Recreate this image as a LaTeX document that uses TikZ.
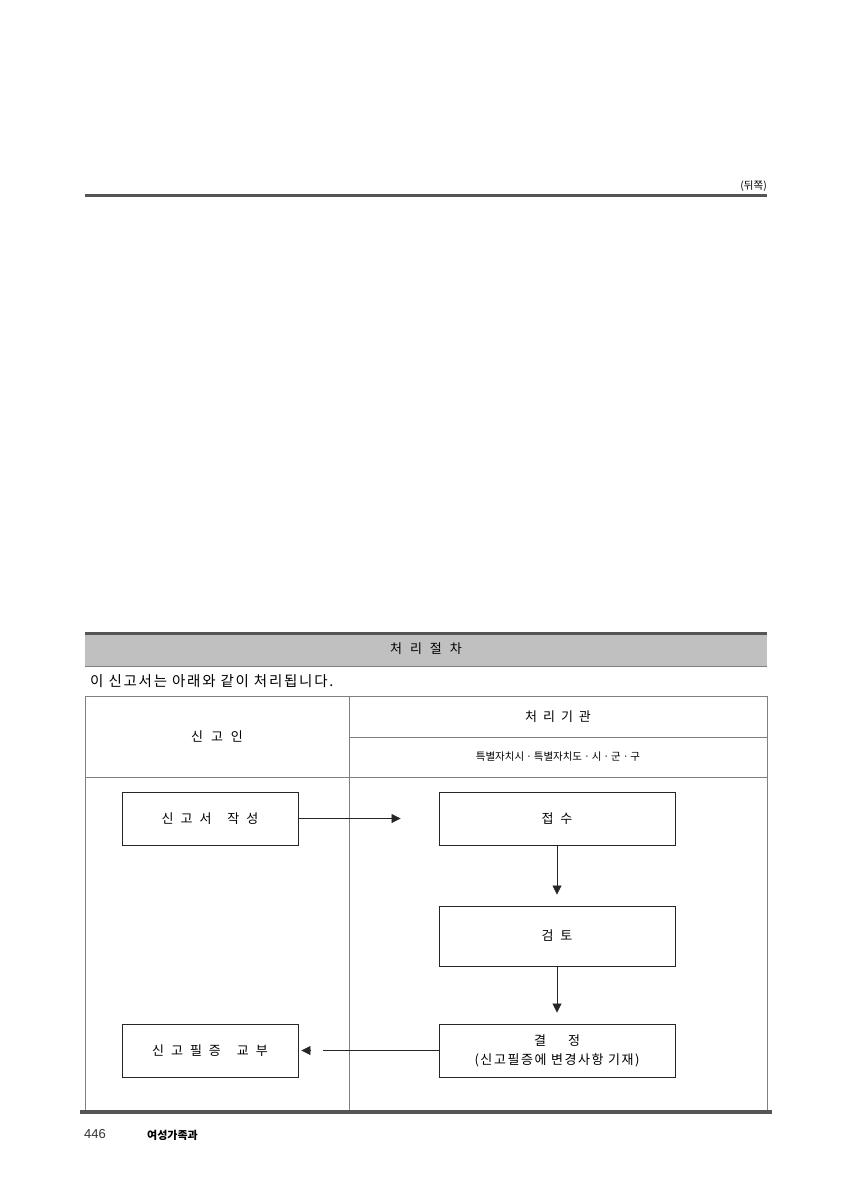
\documentclass[tikz,border=0pt]{standalone}
\usepackage{fontspec}
\setmainfont{Noto Sans CJK KR}[LetterSpace=12]
\newfontfamily\plainkr{Noto Sans CJK KR}
\newfontfamily\numfont{Liberation Sans}
\usetikzlibrary{arrows.meta,calc}
\definecolor{rule}{HTML}{555555}
\definecolor{band}{HTML}{C0C0C0}
\definecolor{tline}{HTML}{808080}
\newcommand\kgap{\hspace{7pt}}
\newcommand\kwide{\hspace{16pt}}
\tikzset{
  procbox/.style={draw=black!85, line width=0.9pt, minimum height=53pt, inner sep=0pt, align=center, font=\fontsize{13}{19}\selectfont},
  lbox/.style={procbox, minimum width=176pt},
  rbox/.style={procbox, minimum width=236pt},
  arr/.style={line width=0.8pt, black!85, -{Triangle[length=9pt,width=9pt]}},
  plainln/.style={line width=0.8pt, black!85},
  tl/.style={draw=tline, line width=0.9pt},
  lbl/.style={inner sep=0pt, font=\fontsize{13}{15}\selectfont}
}
\begin{document}
\begin{tikzpicture}[x=1pt,y=-1pt]
\useasboundingbox (0,0) rectangle (848,1200);
% top rule
\draw[rule, line width=3pt] (85,195) -- (767,195);
\node[lbl, anchor=south east, font=\plainkr\fontsize{10.5}{12}\selectfont] (back) at (767,192) {(뒤쪽)};
% header band
\fill[band] (85,634) rectangle (767,666);
\draw[rule, line width=3pt] (85,633.5) -- (767,633.5);
\draw[tline, line width=0.8pt] (85,666) -- (767,666);
\node[lbl] (title) at (426,649) {처\hspace{8pt}리\hspace{8pt}절\hspace{8pt}차};
\node[lbl, anchor=west, font=\fontsize{14.5}{16}\selectfont] (intro) at (90,681) {이 신고서는 아래와 같이 처리됩니다.};
% table
\draw[tl] (85,696) rectangle (767,1111);
\draw[tl] (349,696) -- (349,1111);
\draw[tl] (349,737) -- (767,737);
\draw[tl] (85,777) -- (767,777);
\node[lbl] (h1) at (217,736) {신\hspace{8pt}고\hspace{8pt}인};
\node[lbl] (h2) at (558,717) {처\hspace{6pt}리\hspace{6pt}기\hspace{6pt}관};
\node[lbl, font=\plainkr\fontsize{10.5}{14}\selectfont] (h3) at (558,757) {특별자치시ㆍ특별자치도ㆍ시ㆍ군ㆍ구};
% boxes
\node[lbox] (a) at (210,818.5) {신\kgap 고\kgap 서\kwide 작\kgap 성};
\node[rbox] (b) at (557,818.5) {접\kgap 수};
\node[rbox] (c) at (557,936) [minimum height=60pt] {검\kgap 토};
\node[rbox] (d) at (557,1050.5) {결\hspace{22pt}정\\(신고필증에 변경사항 기재)};
\node[lbox] (e) at (210,1050.5) {신\kgap 고\kgap 필\kgap 증\kwide 교\kgap 부};
% connectors
\draw[arr, shorten >=38pt] (a.east) -- (b.west);
\draw[arr, shorten >=11pt] (b.south) -- (c.north);
\draw[arr, shorten >=11pt] (c.south) -- (d.north);
\draw[plainln, shorten >=25pt] (d.west) -- (e.east);
\draw[arr, shorten >=3pt] ($(e.east)+(12,0)$) -- (e.east);
% bottom rule and footer
\draw[rule, line width=4pt] (80,1112) -- (772,1112);
\node[lbl, anchor=west, font=\numfont\fontsize{13}{15}\selectfont, text=black!80] (pg) at (84,1134) {446};
\node[lbl, anchor=west, font=\plainkr\bfseries\fontsize{11}{14}\selectfont] (dept) at (147,1135) {여성가족과};
\end{tikzpicture}
\end{document}
